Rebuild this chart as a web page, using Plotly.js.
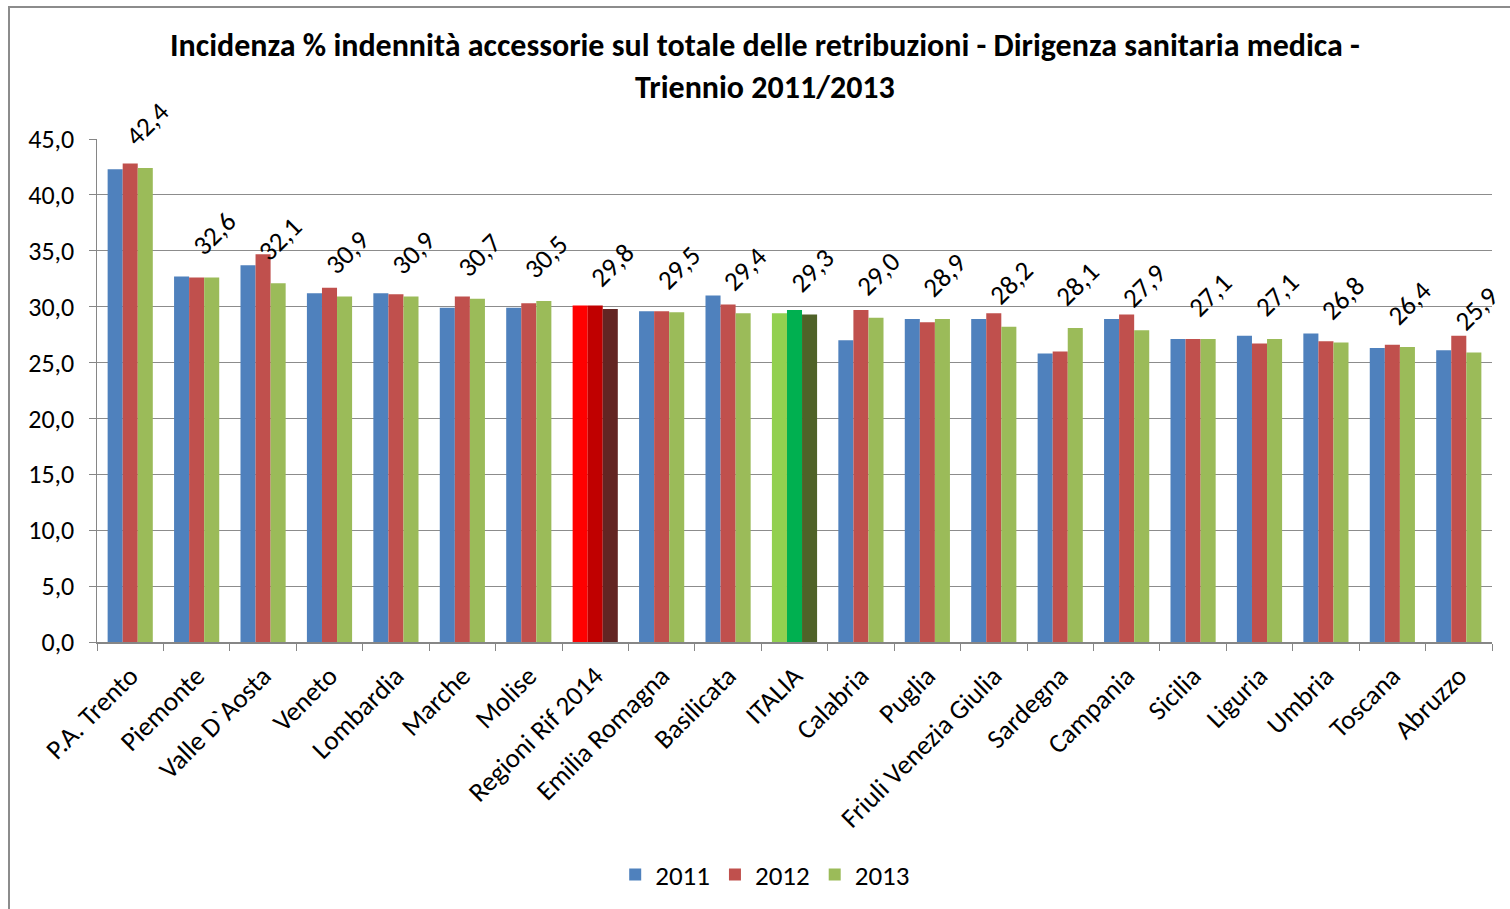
<!DOCTYPE html>
<html><head><meta charset="utf-8">
<script src="https://cdn.plot.ly/plotly-3.0.1.min.js"></script>
<style>
html,body{margin:0;padding:0;background:#fff;overflow:hidden;}
#frame{position:absolute;left:8px;top:6px;width:1600px;height:1000px;border:2px solid #8c8c8c;box-sizing:border-box;}
#chart{position:absolute;left:0;top:0;width:1510px;height:909px;}
</style></head>
<body>
<div id="frame"></div>
<div id="chart"></div>
<script>
const categories = ["P.A. Trento","Piemonte","Valle D`Aosta","Veneto","Lombardia","Marche","Molise","Regioni Rif 2014","Emilia Romagna","Basilicata","ITALIA","Calabria","Puglia","Friuli Venezia Giulia","Sardegna","Campania","Sicilia","Liguria","Umbria","Toscana","Abruzzo"];
const values2011 = [42.3,32.7,33.7,31.2,31.2,29.9,29.9,30.1,29.6,31.0,29.4,27.0,28.9,28.9,25.8,28.9,27.1,27.4,27.6,26.3,26.1];
const values2012 = [42.8,32.6,34.7,31.7,31.1,30.9,30.3,30.1,29.6,30.2,29.7,29.7,28.6,29.4,26.0,29.3,27.1,26.7,26.9,26.6,27.4];
const values2013 = [42.4,32.6,32.1,30.9,30.9,30.7,30.5,29.8,29.5,29.4,29.3,29.0,28.9,28.2,28.1,27.9,27.1,27.1,26.8,26.4,25.9];
const seriesNames = ["2011","2012","2013"];
const yTicks = [0,5,10,15,20,25,30,35,40,45];

const base = ["#4F81BD","#C0504D","#9BBB59"];
const special = {
  "Regioni Rif 2014": ["#FF0000","#C00000","#632523"],
  "ITALIA": ["#92D050","#00B050","#4F6228"]
};
function colors(i){ return categories.map(c => special[c] ? special[c][i] : base[i]); }

const font = "Calibri, Carlito, 'Open Sans', 'Liberation Sans', sans-serif";
const traces = [values2011, values2012, values2013].map((v,i)=>({
  type:'bar', name:seriesNames[i], x:categories, y:v,
  marker:{color:colors(i), line:{width:0}},
  showlegend:true
}));

// data labels on the 2013 series
const annotations = categories.map((c,k)=>({
  xref:'x', yref:'y', x:c, y:values2013[k],
  text: values2013[k].toFixed(1).replace('.',','),
  showarrow:false, textangle:-45,
  xanchor:'center', yanchor:'bottom', xshift:17, yshift:13,
  font:{size:27, color:'#000', family:font}
}));

const layout = {
  width:1510, height:909,
  paper_bgcolor:'rgba(0,0,0,0)', plot_bgcolor:'rgba(0,0,0,0)',
  separators:',.',
  margin:{l:97, r:18, t:139, b:267, autoexpand:false},
  barmode:'group', bargap:0.32, bargroupgap:0,
  font:{family:font, color:'#000', size:22},
  title:{text:'<b>Incidenza % indennità accessorie sul totale delle retribuzioni - Dirigenza sanitaria medica -<br>Triennio 2011/2013</b>',
    x:0.5066, xanchor:'center', xref:'container', y:0.938, yanchor:'top', font:{size:32, family:font, color:'#000'}},
  xaxis:{type:'category', range:[-0.5, categories.length-0.5], autorange:false, automargin:false,
    showline:true, linecolor:'#868686', linewidth:1.5,
    ticks:'outside', tickson:'boundaries', ticklen:7, tickcolor:'#868686', ticklabelstandoff:6,
    tickangle:-45, tickfont:{size:27, family:font, color:'#000'}, showgrid:false},
  yaxis:{range:[0,45], autorange:false, automargin:false, tickvals:yTicks, tickformat:'.1f', showline:true, linecolor:'#868686', linewidth:1.5,
    ticks:'outside', ticklen:7, tickcolor:'#868686', ticklabelstandoff:9, showgrid:true, gridcolor:'#8c8c8c', gridwidth:1.2,
    zeroline:false, tickfont:{size:26, family:font, color:'#000'}},
  legend:{orientation:'h', x:0.479, xanchor:'center', y:-0.463, yanchor:'middle', font:{size:27, family:font, color:'#000'},
    itemwidth:20, traceorder:'normal'},
  annotations: annotations,
  showlegend:true
};
Plotly.newPlot('chart', traces, layout, {displayModeBar:false, staticPlot:true});
</script>
</body></html>
